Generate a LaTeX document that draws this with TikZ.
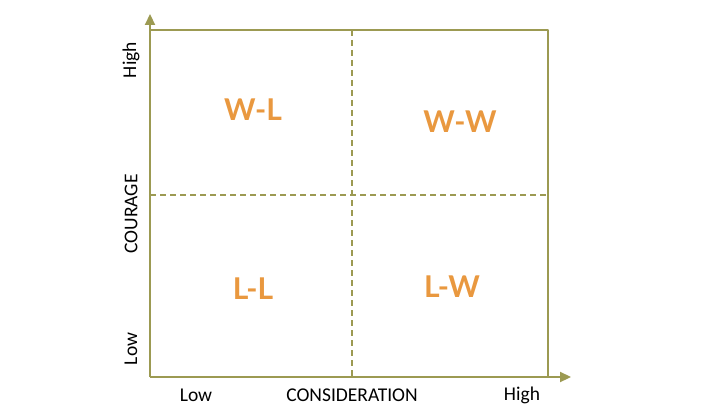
\documentclass[tikz,border=0pt]{standalone}
\usepackage{fontspec}
\setmainfont{Carlito}
\newfontfamily\quadfont{Lato}
\usetikzlibrary{arrows.meta}
\definecolor{axisolive}{HTML}{9C9A52}
\definecolor{quadorange}{HTML}{E9983F}
\tikzset{
  axisline/.style={draw=axisolive, line width=2.2pt},
  gridline/.style={draw=axisolive, line width=1.9pt, dash pattern=on 6pt off 4pt},
  axislabel/.style={font=\fontsize{19.5}{23}\selectfont, text=black, inner sep=0pt},
  quadlabel/.style={font=\quadfont\bfseries\fontsize{30}{36}\selectfont, text=quadorange, inner sep=0pt}
}
\begin{document}
\begin{tikzpicture}[x=1pt, y=-1pt, line join=round, >={Triangle[length=11pt, width=10pt]}]
			\useasboundingbox (0,0) rectangle (711,417);
			\def\xl{150} \def\xr{548} \def\yt{30} \def\yb{377} \def\xm{352} \def\ym{195}
			\coordinate (origin) at (\xl,\yb);
			\coordinate (ytip) at (\xl,14);
			\coordinate (xtip) at (571,\yb);
			\coordinate (topleft) at (\xl,\yt);
			\coordinate (topright) at (\xr,\yt);
			\coordinate (botright) at (\xr,\yb);
			\coordinate (midtop) at (\xm,\yt);
			\coordinate (midbot) at (\xm,\yb);
			\coordinate (midleft) at (\xl,\ym);
			\coordinate (midright) at (\xr,\ym);
			% quadrant grid
			\draw[gridline] (midtop) -- (midbot);
			\draw[gridline] (midleft) -- (midright);
			\draw[axisline] (topleft) -- (topright) -- (botright);
			% axes
			\draw[axisline, ->] (origin) -- (ytip);
			\draw[axisline, ->] (origin) -- (xtip);
			% axis labels
			\node[axislabel, rotate=90] (yhigh) at (131,60) {High};
			\node[axislabel, rotate=90] (ylow) at (131,349) {Low};
			\node[axislabel, rotate=90] (ytitle) at (131,214) {COURAGE};
			\node[axislabel] (xlow) at (196,395) {Low};
			\node[axislabel] (xtitle) at (352,395) {CONSIDERATION};
			\node[axislabel] (xhigh) at (522,395) {High};
			% quadrants
			\node[quadlabel] (wl) at (253,110) {W-L};
			\node[quadlabel] (ww) at (460,122) {W-W};
			\node[quadlabel] (ll) at (253,289) {L-L};
			\node[quadlabel] (lw) at (452,287) {L-W};
		\end{tikzpicture}
\end{document}
